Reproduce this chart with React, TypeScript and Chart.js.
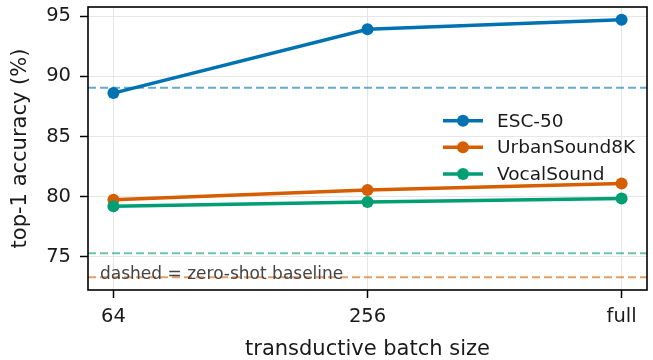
import React, { useEffect, useRef } from 'react';
import { Chart, registerables } from 'chart.js';
Chart.register(...registerables);

const categories = ['64', '256', 'full'];
const seriesNames = ['ESC-50', 'UrbanSound8K', 'VocalSound'];
const esc50 = [88.6, 93.9, 94.7];
const urbanSound = [79.75, 80.55, 81.1];
const vocalSound = [79.2, 79.55, 79.85];
const zeroShotBaselines = [89.05, 73.3, 75.3];
const yTicks = [75, 80, 85, 90, 95];
const noteText = 'dashed = zero-shot baseline';

const seriesColors = ['#0072B2', '#D55E00', '#009E73'];
const FONT = "'DejaVu Sans', sans-serif";

export default function App() {
  const ref = useRef<HTMLCanvasElement>(null);

  useEffect(() => {
    document.body.style.margin = '0';
    const canvas = ref.current!;
    const series = [esc50, urbanSound, vocalSound];

    const overlay = {
      id: 'overlay',
      beforeDatasetsDraw(chart: any) {
        const { ctx, chartArea: a, scales } = chart;
        ctx.save();
        ctx.beginPath();
        ctx.rect(a.left, a.top, a.right - a.left, a.bottom - a.top);
        ctx.clip();
        zeroShotBaselines.forEach((v, i) => {
          const y = scales.y.getPixelForValue(v);
          ctx.strokeStyle = seriesColors[i];
          ctx.globalAlpha = 0.6;
          ctx.lineWidth = 2;
          ctx.setLineDash([8, 4]);
          ctx.beginPath();
          ctx.moveTo(a.left, y);
          ctx.lineTo(a.right, y);
          ctx.stroke();
        });
        ctx.globalAlpha = 1;
        ctx.setLineDash([]);
        ctx.fillStyle = '#444444';
        ctx.font = `17px ${FONT}`;
        ctx.textAlign = 'left';
        ctx.textBaseline = 'alphabetic';
        ctx.fillText(noteText, a.left + 12, a.bottom - 11);
        ctx.restore();
      },
      afterDatasetsDraw(chart: any) {
        const { ctx } = chart;
        ctx.save();
        const x0 = 443;
        const rows = [120.7, 147.3, 174];
        seriesNames.forEach((name, i) => {
          const y = rows[i];
          ctx.strokeStyle = seriesColors[i];
          ctx.lineWidth = 3.5;
          ctx.beginPath();
          ctx.moveTo(x0, y);
          ctx.lineTo(x0 + 40, y);
          ctx.stroke();
          ctx.fillStyle = seriesColors[i];
          ctx.beginPath();
          ctx.arc(x0 + 20, y, 6, 0, Math.PI * 2);
          ctx.fill();
          ctx.fillStyle = '#1a1a1a';
          ctx.font = `18.5px ${FONT}`;
          ctx.textAlign = 'left';
          ctx.textBaseline = 'middle';
          ctx.fillText(name, x0 + 54, y + 1);
        });
        ctx.restore();
      },
      afterDraw(chart: any) {
        const { ctx, chartArea: a } = chart;
        ctx.save();
        ctx.strokeStyle = '#000';
        ctx.lineWidth = 1.6;
        ctx.strokeRect(a.left, a.top, a.right - a.left, a.bottom - a.top);
        ctx.restore();
      },
    };

    const chart = new Chart(canvas, {
      type: 'line',
      data: {
        datasets: series.map((vals, i) => ({
          label: seriesNames[i],
          data: vals.map((v, j) => ({ x: j, y: v })),
          borderColor: seriesColors[i],
          backgroundColor: seriesColors[i],
          pointBackgroundColor: seriesColors[i],
          pointBorderWidth: 0,
          pointRadius: 6,
          borderWidth: 3.5,
          tension: 0,
          order: 3 - i,
        })),
      },
      options: {
        animation: false,
        responsive: false,
        devicePixelRatio: 1,
        layout: { padding: { left: 0, top: 7, right: 2, bottom: 0 } },
        plugins: { legend: { display: false }, tooltip: { enabled: false } },
        scales: {
          x: {
            type: 'linear',
            min: -0.1,
            max: 2.1,
            afterBuildTicks: (s: any) => {
              s.ticks = categories.map((_, i) => ({ value: i }));
            },
            afterFit: (s: any) => {
              s.height = 70;
              s.paddingLeft = 0;
              s.paddingRight = 0;
            },
            ticks: {
              callback: (v: any) => categories[v] ?? '',
              color: '#1a1a1a',
              font: { family: FONT, size: 19.5 },
              padding: 7,
              maxRotation: 0,
            },
            grid: {
              color: '#e6e6e6',
              lineWidth: 1,
              tickColor: '#000',
              tickLength: 8,
              tickWidth: 1.5,
            },
            border: { display: false },
            title: {
              display: true,
              text: 'transductive batch size',
              color: '#1a1a1a',
              font: { family: FONT, size: 21, lineHeight: 1 },
              padding: { top: 0, bottom: 0 },
            },
          },
          y: {
            type: 'linear',
            min: 72.25,
            max: 95.75,
            afterBuildTicks: (s: any) => {
              s.ticks = yTicks.map((v) => ({ value: v }));
            },
            afterFit: (s: any) => {
              s.width = 88;
              s.paddingTop = 0;
              s.paddingBottom = 0;
            },
            ticks: {
              color: '#1a1a1a',
              font: { family: FONT, size: 19.5 },
              padding: 9,
            },
            grid: {
              color: '#e6e6e6',
              lineWidth: 1,
              tickColor: '#000',
              tickLength: 8,
              tickWidth: 1.5,
            },
            border: { display: false },
            title: {
              display: true,
              text: 'top-1 accuracy (%)',
              color: '#1a1a1a',
              font: { family: FONT, size: 21, lineHeight: 1 },
              padding: { top: 10, bottom: 0 },
            },
          },
        },
      },
      plugins: [overlay],
    });
    return () => chart.destroy();
  }, []);

  return (
    <div style={{ width: 653, height: 360 }}>
      <canvas ref={ref} width={653} height={360} />
    </div>
  );
}
